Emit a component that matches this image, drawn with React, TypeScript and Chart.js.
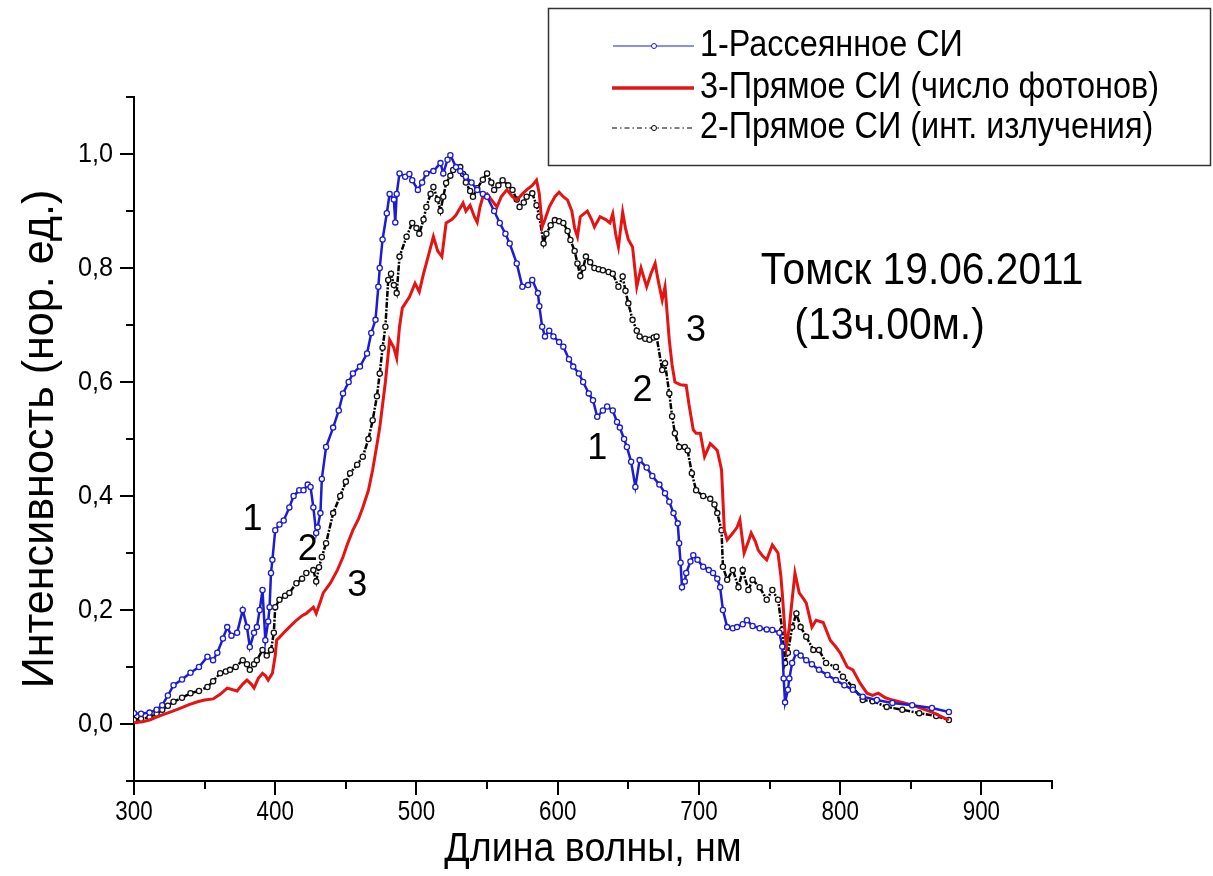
import React, { useEffect, useRef } from "react";
import { Chart, registerables } from "chart.js";

Chart.register(...registerables);

const FONT = "'Liberation Sans', Arial, sans-serif";

// ---- Data (wavelength, nm / normalized intensity) ----
const scatteredX = [300, 305, 311, 316, 320, 324, 328, 334, 340, 346, 352, 356, 359, 363, 366, 369, 373, 377, 380, 382, 385, 387, 389, 391, 393, 395, 396, 397, 398, 400, 403, 406, 410, 413, 417, 420, 423, 425, 427, 429, 430, 432, 433, 436, 441, 445, 448, 452, 455, 460, 465, 468, 471, 473, 474, 476, 479, 481, 484, 485, 486, 488, 492, 495, 497, 501, 504, 507, 512, 517, 519, 522, 524, 528, 531, 535, 539, 543, 547, 550, 555, 559, 563, 566, 571, 575, 579, 582, 586, 587, 589, 591, 594, 597, 601, 604, 608, 611, 615, 618, 622, 625, 628, 632, 635, 639, 642, 644, 647, 649, 652, 655, 658, 663, 667, 672, 676, 679, 682, 685, 686, 687, 688, 690, 691, 694, 696, 699, 703, 707, 710, 713, 715, 717, 720, 724, 727, 731, 734, 738, 743, 748, 752, 757, 759, 760, 761, 763, 764, 766, 769, 772, 776, 780, 785, 791, 797, 803, 809, 816, 826, 837, 851, 865, 877];
const scatteredY = [0.019, 0.018, 0.02, 0.025, 0.033, 0.05, 0.068, 0.078, 0.09, 0.1, 0.118, 0.112, 0.125, 0.15, 0.17, 0.155, 0.16, 0.2, 0.17, 0.135, 0.16, 0.17, 0.2, 0.235, 0.147, 0.18, 0.205, 0.265, 0.288, 0.34, 0.35, 0.357, 0.38, 0.4, 0.41, 0.41, 0.42, 0.416, 0.38, 0.335, 0.345, 0.37, 0.43, 0.486, 0.52, 0.55, 0.58, 0.6, 0.615, 0.627, 0.65, 0.686, 0.709, 0.767, 0.8, 0.85, 0.896, 0.93, 0.92, 0.88, 0.93, 0.966, 0.96, 0.965, 0.954, 0.937, 0.95, 0.966, 0.97, 0.984, 0.966, 0.99, 0.998, 0.977, 0.97, 0.96, 0.95, 0.937, 0.93, 0.925, 0.9, 0.879, 0.86, 0.843, 0.808, 0.767, 0.77, 0.779, 0.756, 0.733, 0.697, 0.68, 0.69, 0.68, 0.67, 0.662, 0.64, 0.627, 0.615, 0.6, 0.58, 0.568, 0.539, 0.55, 0.557, 0.55, 0.53, 0.52, 0.5, 0.486, 0.46, 0.416, 0.463, 0.45, 0.435, 0.42, 0.405, 0.39, 0.37, 0.352, 0.317, 0.283, 0.24, 0.25, 0.265, 0.285, 0.296, 0.288, 0.276, 0.27, 0.265, 0.255, 0.24, 0.2, 0.17, 0.168, 0.17, 0.175, 0.182, 0.172, 0.168, 0.166, 0.165, 0.16, 0.136, 0.08, 0.038, 0.06, 0.08, 0.107, 0.125, 0.12, 0.112, 0.105, 0.095, 0.086, 0.077, 0.068, 0.06, 0.048, 0.042, 0.037, 0.033, 0.028, 0.021];

const photonsX = [300, 306, 311, 316, 320, 327, 333, 339, 345, 350, 356, 361, 366, 370, 373, 377, 380, 383, 385, 388, 391, 393, 395, 398, 400, 401, 403, 406, 410, 415, 419, 422, 427, 429, 432, 434, 439, 444, 448, 451, 455, 459, 462, 466, 469, 472, 474, 476, 478, 481, 484, 486, 488, 490, 495, 499, 502, 505, 507, 512, 515, 518, 521, 525, 528, 533, 535, 538, 541, 543, 545, 547, 550, 553, 557, 560, 564, 568, 571, 575, 578, 582, 585, 587, 589, 591, 594, 598, 601, 604, 607, 610, 612, 614, 616, 621, 624, 626, 630, 634, 637, 639, 641, 643, 646, 648, 650, 653, 656, 659, 663, 666, 669, 671, 674, 676, 679, 681, 683, 687, 691, 693, 696, 698, 701, 704, 708, 711, 713, 716, 718, 720, 724, 727, 729, 732, 735, 737, 740, 742, 745, 748, 752, 756, 758, 759, 761, 762, 764, 766, 768, 771, 774, 776, 780, 783, 788, 793, 797, 800, 805, 809, 814, 819, 823, 827, 832, 837, 844, 851, 858, 865, 871, 877];
const photonsY = [0.002, 0.004, 0.007, 0.012, 0.016, 0.022, 0.028, 0.034, 0.039, 0.042, 0.044, 0.052, 0.063, 0.06, 0.058, 0.07, 0.077, 0.07, 0.063, 0.08, 0.089, 0.085, 0.077, 0.089, 0.12, 0.147, 0.152, 0.16, 0.17, 0.182, 0.19, 0.194, 0.205, 0.194, 0.215, 0.23, 0.247, 0.27, 0.293, 0.315, 0.34, 0.36, 0.38, 0.41, 0.446, 0.49, 0.52, 0.56, 0.6, 0.674, 0.66, 0.642, 0.697, 0.73, 0.749, 0.773, 0.758, 0.79, 0.808, 0.855, 0.83, 0.82, 0.879, 0.885, 0.893, 0.914, 0.9, 0.91, 0.89, 0.88, 0.907, 0.925, 0.93, 0.92, 0.907, 0.925, 0.937, 0.925, 0.919, 0.93, 0.937, 0.945, 0.954, 0.93, 0.872, 0.885, 0.907, 0.925, 0.933, 0.925, 0.919, 0.9, 0.87, 0.855, 0.89, 0.9, 0.885, 0.872, 0.89, 0.885, 0.879, 0.895, 0.86, 0.837, 0.898, 0.87, 0.85, 0.837, 0.767, 0.8, 0.767, 0.79, 0.808, 0.78, 0.744, 0.767, 0.674, 0.63, 0.6, 0.595, 0.594, 0.56, 0.516, 0.51, 0.51, 0.469, 0.492, 0.485, 0.48, 0.446, 0.34, 0.323, 0.335, 0.345, 0.358, 0.3, 0.32, 0.335, 0.32, 0.305, 0.295, 0.288, 0.314, 0.3, 0.26, 0.23, 0.16, 0.136, 0.17, 0.218, 0.265, 0.23, 0.22, 0.212, 0.17, 0.182, 0.178, 0.147, 0.135, 0.125, 0.1, 0.095, 0.072, 0.054, 0.05, 0.054, 0.046, 0.042, 0.038, 0.033, 0.027, 0.021, 0.014, 0.007];

const directX = [300, 305, 311, 316, 320, 324, 328, 334, 340, 346, 352, 356, 361, 365, 368, 372, 377, 380, 382, 385, 387, 391, 394, 397, 399, 400, 403, 407, 410, 415, 419, 422, 427, 429, 431, 433, 436, 441, 446, 450, 453, 458, 462, 466, 469, 472, 474, 476, 478, 480, 482, 484, 486, 488, 493, 497, 500, 502, 505, 507, 510, 512, 515, 517, 519, 521, 524, 526, 531, 533, 535, 538, 540, 543, 547, 550, 553, 555, 558, 561, 565, 568, 571, 573, 576, 578, 582, 585, 587, 590, 592, 595, 598, 601, 604, 607, 609, 612, 614, 616, 618, 620, 623, 626, 629, 632, 636, 639, 643, 646, 648, 650, 653, 656, 658, 662, 665, 668, 670, 674, 676, 679, 681, 683, 686, 690, 692, 695, 698, 703, 708, 711, 713, 716, 717, 720, 724, 728, 731, 735, 738, 743, 748, 752, 756, 759, 761, 763, 766, 769, 772, 776, 781, 785, 790, 797, 802, 809, 816, 823, 833, 844, 856, 868, 877];
const directY = [0.007, 0.009, 0.012, 0.018, 0.025, 0.032, 0.039, 0.046, 0.054, 0.058, 0.065, 0.075, 0.089, 0.092, 0.095, 0.1, 0.112, 0.105, 0.095, 0.105, 0.112, 0.13, 0.12, 0.13, 0.16, 0.205, 0.218, 0.225, 0.23, 0.247, 0.255, 0.265, 0.27, 0.25, 0.275, 0.293, 0.317, 0.37, 0.4, 0.425, 0.44, 0.455, 0.469, 0.5, 0.533, 0.575, 0.615, 0.66, 0.697, 0.779, 0.79, 0.77, 0.756, 0.82, 0.855, 0.879, 0.87, 0.86, 0.885, 0.907, 0.93, 0.942, 0.92, 0.9, 0.925, 0.949, 0.962, 0.972, 0.977, 0.965, 0.95, 0.935, 0.925, 0.94, 0.955, 0.966, 0.95, 0.937, 0.945, 0.954, 0.945, 0.937, 0.92, 0.907, 0.915, 0.925, 0.931, 0.91, 0.89, 0.843, 0.86, 0.875, 0.884, 0.882, 0.879, 0.865, 0.849, 0.83, 0.808, 0.786, 0.8, 0.82, 0.81, 0.8, 0.798, 0.796, 0.793, 0.79, 0.767, 0.785, 0.76, 0.738, 0.709, 0.69, 0.68, 0.676, 0.674, 0.678, 0.68, 0.621, 0.633, 0.58, 0.54, 0.51, 0.486, 0.486, 0.48, 0.44, 0.41, 0.4, 0.395, 0.385, 0.37, 0.34, 0.276, 0.253, 0.27, 0.24, 0.27, 0.235, 0.253, 0.24, 0.218, 0.235, 0.218, 0.165, 0.107, 0.125, 0.17, 0.194, 0.17, 0.153, 0.13, 0.13, 0.107, 0.1, 0.083, 0.065, 0.042, 0.04, 0.03, 0.025, 0.019, 0.014, 0.007];

// ---- Text ----
const seriesLabels = ["1-Рассеянное СИ", "3-Прямое СИ (число фотонов)", "2-Прямое СИ (инт. излучения)"];
const xTitle = "Длина волны, нм";
const yTitle = "Интенсивность (нор. ед.)";
const placeLabel = "Томск 19.06.2011";
const timeLabel = "(13ч.00м.)";
// curve number labels: [text, wavelength, intensity]
const curveTags: [string, number, number][] = [
  ["1", 384, 0.358],
  ["2", 423, 0.305],
  ["3", 458, 0.242],
  ["3", 698, 0.689],
  ["2", 660, 0.584],
  ["1", 628, 0.482],
];
const placePos: [number, number] = [858, 0.793];
const timePos: [number, number] = [835, 0.696];

const xTickLabel = (v: number) => (v % 100 === 0 && v <= 900 ? String(v) : "");
const yTickLabel = (v: number) => {
  const t = Math.round(v * 10);
  return t % 2 === 0 && t >= 0 && t <= 10 ? (t / 10).toFixed(1).replace(".", ",") : "";
};

const BLUE = "#1c1cd0";
const RED = "#e41414";
const BLACK = "#000000";

const pts = (xs: number[], ys: number[]) => xs.map((x, i) => ({ x, y: ys[i] }));

function text(
  ctx: CanvasRenderingContext2D,
  s: string,
  x: number,
  y: number,
  size: number,
  sx: number,
  align: CanvasTextAlign,
  rot = 0
) {
  ctx.save();
  ctx.translate(x, y);
  if (rot) ctx.rotate(rot);
  ctx.scale(sx, 1);
  ctx.font = `${size}px ${FONT}`;
  ctx.textAlign = align;
  ctx.textBaseline = "middle";
  ctx.fillStyle = "#000";
  ctx.fillText(s, 0, 0);
  ctx.restore();
}

const overlay = {
  id: "overlay",
  afterDraw(chart: any) {
    const ctx = chart.ctx as CanvasRenderingContext2D;
    const xs = chart.scales.x;
    const ys = chart.scales.y;
    const area = chart.chartArea;
    ctx.save();
    // minor ticks
    ctx.strokeStyle = "#000";
    ctx.lineWidth = 2;
    ctx.beginPath();
    xs.ticks.forEach((t: any) => {
      if (t.value % 100 !== 0) {
        const px = Math.round(xs.getPixelForValue(t.value));
        ctx.moveTo(px, area.bottom);
        ctx.lineTo(px, area.bottom + 8);
      }
    });
    ys.ticks.forEach((t: any) => {
      if (Math.round(t.value * 10) % 2 !== 0) {
        const py = Math.round(ys.getPixelForValue(t.value));
        ctx.moveTo(area.left, py);
        ctx.lineTo(area.left - 8, py);
      }
    });
    ctx.stroke();
    ctx.restore();

    // tick labels
    xs.ticks.forEach((t: any) => {
      const s = xTickLabel(t.value);
      if (s) text(ctx, s, xs.getPixelForValue(t.value), area.bottom + 31, 28, 0.8, "center");
    });
    ys.ticks.forEach((t: any) => {
      const s = yTickLabel(t.value);
      if (s) text(ctx, s, area.left - 21, ys.getPixelForValue(t.value), 28, 0.9, "right");
    });
    // axis titles
    text(ctx, xTitle, (area.left + area.right) / 2, area.bottom + 69, 40, 0.94, "center");
    text(ctx, yTitle, 41, (area.top + area.bottom) / 2, 44, 0.98, "center", -Math.PI / 2);

    // annotations
    curveTags.forEach(([t, x, y]) => {
      text(ctx, t, xs.getPixelForValue(x), ys.getPixelForValue(y), 36, 1, "center");
    });
    text(ctx, placeLabel, xs.getPixelForValue(placePos[0]), ys.getPixelForValue(placePos[1]), 44, 0.925, "center");
    text(ctx, timeLabel, xs.getPixelForValue(timePos[0]), ys.getPixelForValue(timePos[1]), 44, 0.93, "center");

    // legend box
    ctx.save();
    ctx.lineWidth = 1.5;
    ctx.strokeStyle = "#333";
    ctx.fillStyle = "#fff";
    ctx.fillRect(548, 8, 662, 157);
    ctx.strokeRect(548.5, 8.5, 662, 157);
    const rows = [46, 88, 128];
    // blue
    ctx.strokeStyle = BLUE;
    ctx.lineWidth = 1;
    ctx.beginPath();
    ctx.moveTo(613, rows[0]);
    ctx.lineTo(694, rows[0]);
    ctx.stroke();
    ctx.beginPath();
    ctx.arc(654, rows[0], 2.5, 0, Math.PI * 2);
    ctx.fillStyle = "#fff";
    ctx.fill();
    ctx.stroke();
    // red
    ctx.strokeStyle = RED;
    ctx.lineWidth = 3.5;
    ctx.beginPath();
    ctx.moveTo(612, rows[1]);
    ctx.lineTo(694, rows[1]);
    ctx.stroke();
    // black dash-dot
    ctx.strokeStyle = BLACK;
    ctx.lineWidth = 1;
    ctx.setLineDash([5, 3, 1.5, 3]);
    ctx.beginPath();
    ctx.moveTo(612, rows[2]);
    ctx.lineTo(694, rows[2]);
    ctx.stroke();
    ctx.setLineDash([]);
    ctx.beginPath();
    ctx.arc(654, rows[2], 2.5, 0, Math.PI * 2);
    ctx.fillStyle = "#fff";
    ctx.fill();
    ctx.stroke();
    ctx.restore();
    seriesLabels.forEach((t, i) => text(ctx, t, 700, rows[i], 36, 0.9, "left"));
  },
};

export default function App() {
  const ref = useRef<HTMLCanvasElement | null>(null);
  useEffect(() => {
    if (!ref.current) return;
    const chart = new Chart(ref.current, {
      type: "line",
      data: {
        datasets: [
          {
            label: seriesLabels[0],
            data: pts(scatteredX, scatteredY),
            borderColor: BLUE,
            borderWidth: 2.5,
            pointRadius: 2.6,
            pointBorderWidth: 1.3,
            pointBorderColor: BLUE,
            pointBackgroundColor: "#ffffff",
            tension: 0,
          },
          {
            label: seriesLabels[1],
            data: pts(photonsX, photonsY),
            borderColor: RED,
            borderWidth: 3,
            pointRadius: 0,
            tension: 0,
          },
          {
            label: seriesLabels[2],
            data: pts(directX, directY),
            borderColor: BLACK,
            borderWidth: 2.5,
            borderDash: [6, 1.5, 2, 1.5],
            pointRadius: 2.6,
            pointBorderWidth: 1.3,
            pointBorderColor: "#111",
            pointBackgroundColor: "#ffffff",
            tension: 0,
          },
        ],
      },
      options: {
        responsive: false,
        animation: false,
        events: [],
        layout: { padding: { top: 97, right: 161, left: 0, bottom: 0 } },
        plugins: { legend: { display: false }, tooltip: { enabled: false } },
        scales: {
          x: {
            type: "linear",
            min: 300,
            max: 950,
            afterFit: (s: any) => {
              s.height = 95;
            },
            border: { display: true, color: "#000", width: 2 },
            grid: {
              drawOnChartArea: false,
              drawTicks: true,
              tickLength: 14,
              lineWidth: 2,
              color: (c: any) => (c.tick && c.tick.value % 100 === 0 ? "#000" : "rgba(0,0,0,0)"),
            },
            ticks: {
              stepSize: 50,
              autoSkip: false,
              maxRotation: 0,
              display: false,
            },
          },
          y: {
            type: "linear",
            min: -0.1,
            max: 1.1,
            afterFit: (s: any) => {
              s.width = 134;
            },
            border: { display: true, color: "#000", width: 2 },
            grid: {
              drawOnChartArea: false,
              drawTicks: true,
              tickLength: 14,
              lineWidth: 2,
              color: (c: any) =>
                c.tick && Math.round(c.tick.value * 10) % 2 === 0 ? "#000" : "rgba(0,0,0,0)",
            },
            ticks: {
              stepSize: 0.1,
              autoSkip: false,
              display: false,
            },
          },
        },
      },
      plugins: [overlay],
    });
    return () => chart.destroy();
  }, []);
  return (
    <div style={{ position: "absolute", left: 0, top: 0, width: 1213, height: 876, background: "#fff" }}>
      <canvas ref={ref} width={1213} height={876} />
    </div>
  );
}
